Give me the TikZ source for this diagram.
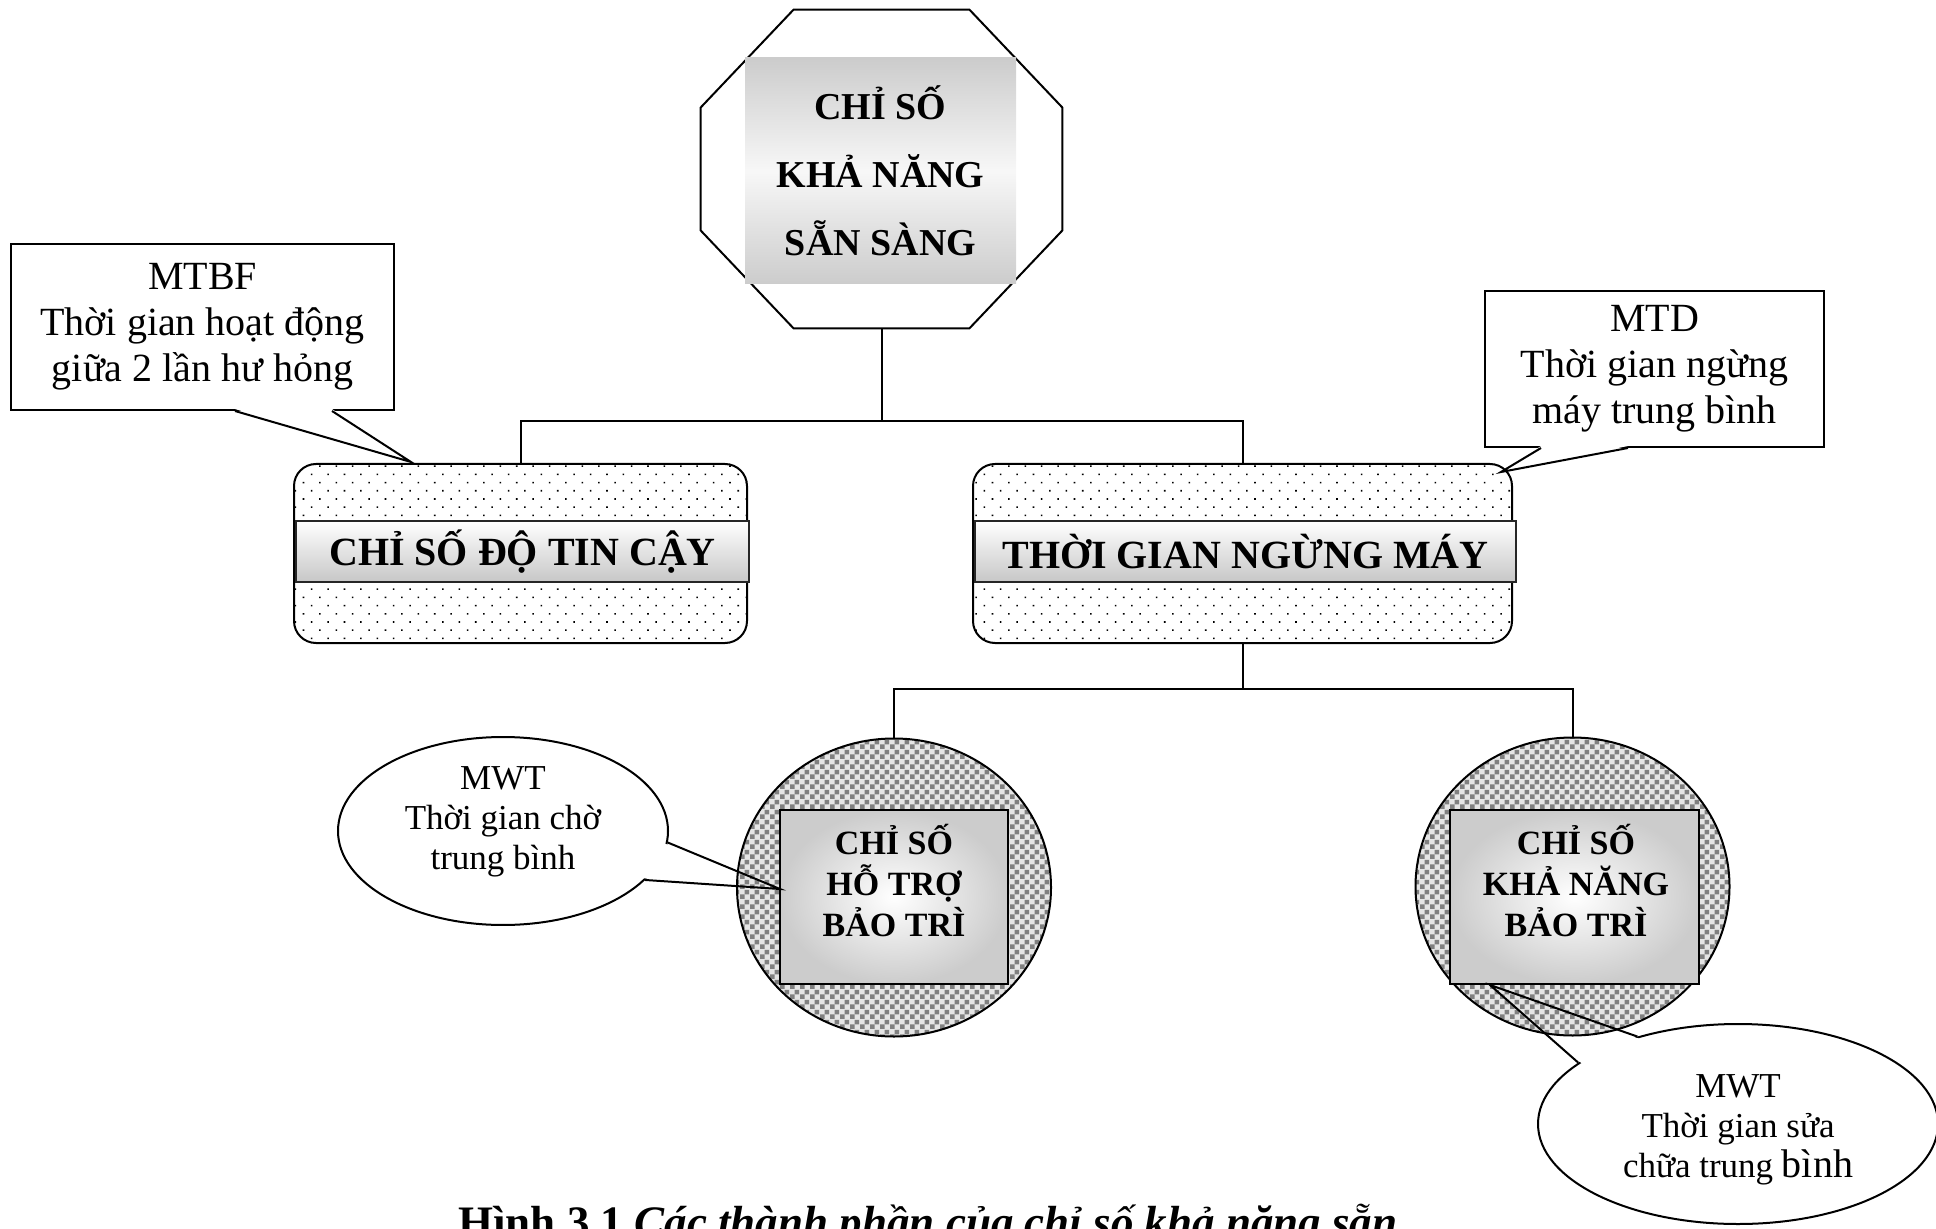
\documentclass[tikz,border=0pt]{standalone}
\usepackage{fontspec}
\setmainfont{Liberation Serif}
\usetikzlibrary{shapes.geometric, positioning, calc, patterns, patterns.meta}

\tikzdeclarepattern{
  name=finechecker,
  type=uncolored,
  bottom left={(0pt,0pt)},
  top right={(5pt,5pt)},
  tile size={(5pt,5pt)},
  code={
    \fill (0pt,0pt) rectangle (2.5pt,2.5pt);
    \fill (2.5pt,2.5pt) rectangle (5pt,5pt);
  }
}

\tikzset{
  line/.style={line width=1pt},
  topbox/.style={rectangle, minimum width=135.5pt, minimum height=113pt, inner sep=0pt,
    top color=black!20, bottom color=black!20, middle color=black!3,
    align=center, font=\fontsize{19}{34}\selectfont\bfseries},
  groupbox/.style={draw, line width=1pt, rounded corners=11pt, minimum height=89.5pt,
    preaction={fill=white}, pattern={Dots[distance=5.8pt, radius=0.55pt, angle=45]}},
  band/.style={draw=black!85, line width=1pt, top color=white, bottom color=black!22,
    minimum height=30.5pt, inner sep=0pt, font=\fontsize{20}{24}\selectfont\bfseries},
  bubble/.style={ellipse, draw, line width=1pt, minimum width=157pt, minimum height=149pt,
    preaction={fill=black!10}, pattern=finechecker, pattern color=black!50},
  inrect/.style={draw, line width=1pt, minimum height=87pt, inner color=white, outer color=black!20},
  circtext/.style={align=center, font=\fontsize{17}{20.5}\selectfont\bfseries},
  note/.style={draw, line width=1pt, fill=white, align=center, inner sep=1pt,
    font=\fontsize{20}{23}\selectfont},
  noteell/.style={ellipse, draw, line width=1pt, fill=white, align=center, inner sep=1pt,
    font=\fontsize{17.5}{20}\selectfont},
}

\begin{document}
\begin{tikzpicture}[x=0.5pt, y=-0.5pt]
\useasboundingbox (0,0) rectangle (1936,1229);

% top index in octagon
\node[minimum width=180.5pt, minimum height=159pt, inner sep=0pt] (octa) at (881.5,169) {};
\draw[line] ([xshift=46.5pt]octa.north west) -- ([xshift=-46.5pt]octa.north east)
  -- ([yshift=-49pt]octa.north east) -- ([yshift=49pt]octa.south east)
  -- ([xshift=-46.5pt]octa.south east) -- ([xshift=46.5pt]octa.south west)
  -- ([yshift=49pt]octa.south west) -- ([yshift=-49pt]octa.north west) -- cycle;
\node[topbox] (avail) at (880.5,171) {CHỈ SỐ\\KHẢ NĂNG\\SẴN SÀNG};

% second level
\node[groupbox, minimum width=226.5pt] (relia) at (520.5,553.5) {};
\node[groupbox, minimum width=269.5pt] (down) at (1242.5,553.5) {};
\node[band, minimum width=226.5pt] (reliaband) at (522.5,551.5) {CHỈ SỐ ĐỘ TIN CẬY};
\node[band, minimum width=270.5pt] (downband) at (1245.5,551.5) {THỜI GIAN NGỪNG MÁY};

\draw[line] (octa.south) -- ++(0,93) coordinate (busT);
\draw[line] (relia.north) |- (busT) -| (down.north);

% callouts MTBF / MTD
\node[note, minimum width=191.5pt, minimum height=83pt] (mtbf) at (202.5,327) {MTBF\\Thời gian hoạt động\\giữa 2 lần hư hỏng};
\coordinate (tipA) at (411,462);
\fill[white] ([xshift=16.25pt, yshift=1pt]mtbf.south) -- ([xshift=64.75pt, yshift=1pt]mtbf.south) -- (tipA) -- cycle;
\draw[line] ([xshift=16.25pt]mtbf.south) -- (tipA) -- ([xshift=64.75pt]mtbf.south);

\node[note, minimum width=169.5pt, minimum height=78pt] (mtd) at (1654.5,369) {MTD\\Thời gian ngừng\\máy trung bình};
\coordinate (tipB) at (1501,472);
\fill[white] ([xshift=-56.75pt, yshift=1pt]mtd.south) -- ([xshift=-13.25pt, yshift=1pt]mtd.south) -- (tipB) -- cycle;
\draw[line] ([xshift=-56.75pt]mtd.south) -- (tipB) -- ([xshift=-13.25pt]mtd.south);

% callouts MWT
\node[noteell, minimum width=165pt, minimum height=90pt, text depth=13pt] (mwtA) at (503,831) {MWT\\Thời gian chờ\\trung bình};
\node[noteell, minimum width=200pt, minimum height=100pt, text height=57.5pt] (mwtB) at (1738,1124) {MWT\\Thời gian sửa\\chữa trung {\fontsize{20}{20}\selectfont bình}};
\coordinate (tipC) at (780,889);
\coordinate (tipD) at (1490,985);
\fill[white] ($(mwtA.center)!0.96!(mwtA.-4)$) -- ($(mwtA.center)!0.96!(mwtA.-19)$) -- (tipC) -- cycle;
\fill[white] ($(mwtB.center)!0.97!(mwtB.159)$) -- ($(mwtB.center)!0.97!(mwtB.139)$) -- (tipD) -- cycle;

% third level
\node[bubble] (suppc) at (894,887.5) {};
\node[bubble] (abilc) at (1572.5,886.5) {};
\node[inrect, minimum width=114pt] (suprect) at (894,897) {};
\node[circtext] (suptxt) at (894,881) {CHỈ SỐ\\HỖ TRỢ\\BẢO TRÌ};
\node[inrect, minimum width=124.5pt] (abilrect) at (1574.5,897) {};
\node[circtext] (abiltxt) at (1576,881) {CHỈ SỐ\\KHẢ NĂNG\\BẢO TRÌ};

\draw[line] (down.south) -- ++(0,45) coordinate (busB);
\draw[line] (suppc.north) |- (busB) -| (abilc.north);

\draw[line] (mwtA.-4) -- (tipC) -- (mwtA.-19);
\draw[line] (mwtB.159) -- (tipD) -- (mwtB.139);

% caption
\node[anchor=base west, inner sep=0pt, font=\fontsize{22.5}{27}\selectfont\bfseries] (cap) at (458,1237) {Hình 3.1 \textit{Các thành phần của chỉ số khả năng sẵn}};
\end{tikzpicture}
\end{document}
